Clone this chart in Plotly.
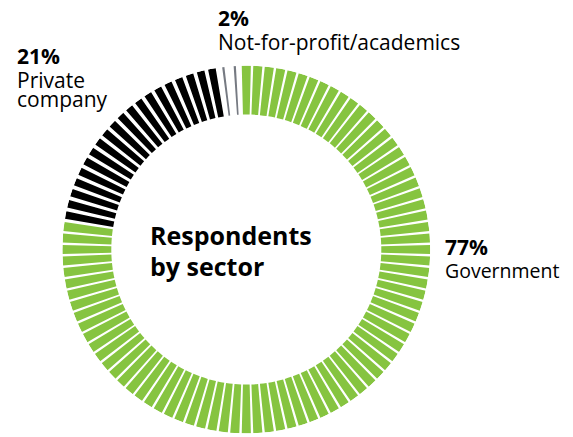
import plotly.graph_objects as go

# Data
sectors = ["Government", "Private company", "Not-for-profit/academics"]
share_labels = ["77%", "21%", "2%"]
segment_counts = [78, 20, 2]          # 1-% ticks drawn in the ring
colors = ["#86c440", "#000000", "#767a82"]
tick_widths = [2.85, 2.4, 0.7]        # angular width (deg) of each tick
center_title = ["Respondents", "by sector"]
label_lines = {
    "Government": ["Government"],
    "Private company": ["Private", "company"],
    "Not-for-profit/academics": ["Not-for-profit/academics"],
}

W, H = 573, 437
OFF = 8  # page body margin in the browser
CX, CY, R_OUT, R_IN = 246.3 - OFF, 249.5 - OFF, 184.0, 135.0
STEP = 360.0 / sum(segment_counts)

fig = go.Figure()
idx = 0
for name, n, col, w in zip(sectors, segment_counts, colors, tick_widths):
    thetas = [(idx + k) * STEP for k in range(n)]
    idx += n
    fig.add_trace(go.Barpolar(
        theta=thetas,
        r=[R_OUT - R_IN] * n,
        base=[R_IN] * n,
        width=[w] * n,
        marker=dict(color=col, line=dict(width=0)),
        name=name,
        hoverinfo="skip",
        showlegend=False,
    ))

fig.update_layout(
    width=W, height=H,
    margin=dict(l=0, r=0, t=0, b=0),
    paper_bgcolor="white",
    plot_bgcolor="white",
    showlegend=False,
    polar=dict(
        domain=dict(x=[(CX - R_OUT) / W, (CX + R_OUT) / W],
                    y=[(H - (CY + R_OUT)) / H, (H - (CY - R_OUT)) / H]),
        bgcolor="white",
        radialaxis=dict(range=[0, R_OUT], visible=False, showgrid=False),
        angularaxis=dict(rotation=90, direction="clockwise", visible=False,
                         showgrid=False),
        bargap=0,
    ),
    font=dict(family="Open Sans", color="#000000"),
)

def px(x):
    return (x - OFF - 2) / W

def py(y):
    return 1 - (y - OFF) / H

def text(x, y, s, size, bold=False):
    fig.add_annotation(
        x=px(x), y=py(y), xref="paper", yref="paper",
        xanchor="left", yanchor="middle", align="left",
        showarrow=False,
        text=f"<b>{s}</b>" if bold else s,
        font=dict(family="Open Sans", size=size, color="#000000"),
    )

# (left x, vertical centre of first line, line spacing, font size)
label_pos = {
    "Government": (445, 247.5, 23, 19.5),
    "Private company": (16.7, 56, 24, 21),
    "Not-for-profit/academics": (217.7, 18, 23.5, 21),
}
SPACING2 = {"Private company": 19}
for name, pct in zip(sectors, share_labels):
    x, y, sp, fs = label_pos[name]
    text(x, y, pct, 21, bold=True)
    yy = y + sp
    for line in label_lines[name]:
        text(x, yy, line, fs)
        yy += SPACING2.get(name, sp)

text(150, 234.5, center_title[0], 25, bold=True)
text(150, 265.5, center_title[1], 25, bold=True)

fig.write_html("out.html")
